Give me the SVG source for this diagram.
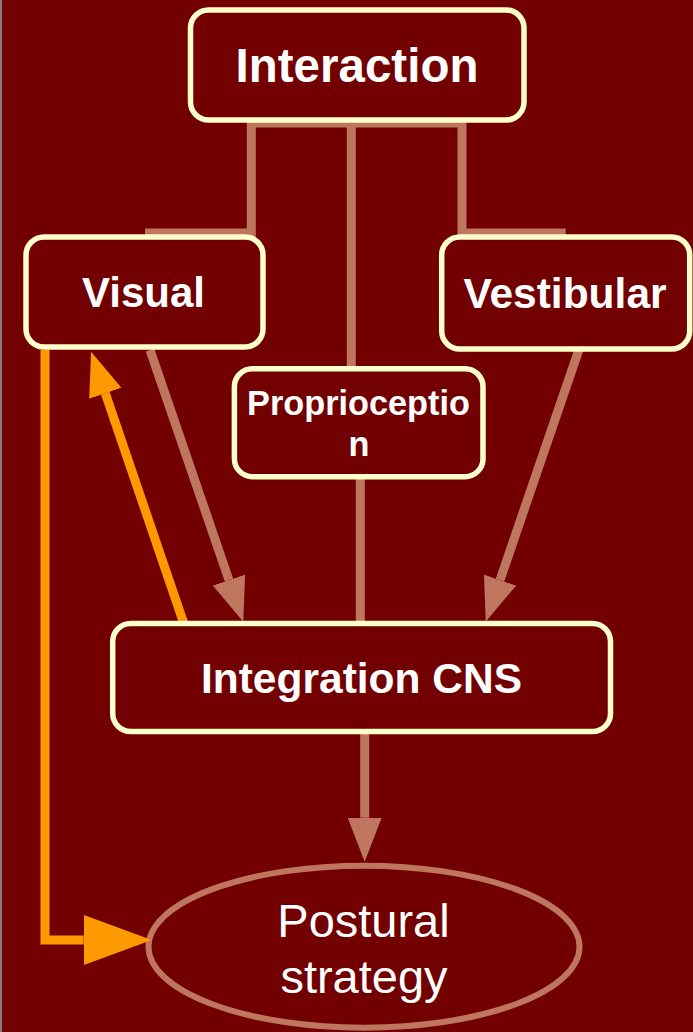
<svg xmlns="http://www.w3.org/2000/svg" width="693" height="1032" viewBox="0 0 693 1032">
  <defs>
    <style>
      .box { fill: #720000; stroke: #FFFFCC; stroke-width: 5.5; }
      .lbl { fill: #FFFFFF; font-family: "Liberation Sans", Arial, sans-serif; font-weight: bold; text-anchor: middle; }
      .plain { fill: #FFFFFF; font-family: "Liberation Sans", Arial, sans-serif; font-weight: normal; text-anchor: middle; }
      .link { fill: none; stroke: #BE765E; stroke-width: 9; }
      .feedback { fill: none; stroke: #FF9900; stroke-width: 9; }
    </style>
    <marker id="headBrown" viewBox="0 -17 44 34" refX="0" refY="0" markerWidth="44" markerHeight="34" markerUnits="userSpaceOnUse" orient="auto">
      <path d="M0,-17 L44,0 L0,17 Z" fill="#BE765E"/>
    </marker>
    <marker id="headOrange" viewBox="0 -17 44 34" refX="0" refY="0" markerWidth="44" markerHeight="34" markerUnits="userSpaceOnUse" orient="auto">
      <path d="M0,-17 L44,0 L0,17 Z" fill="#FF9900"/>
    </marker>
    <marker id="headOrangeBig" viewBox="0 -25 68 50" refX="0" refY="0" markerWidth="68" markerHeight="50" markerUnits="userSpaceOnUse" orient="auto">
      <path d="M0,-25 L68,0 L0,25 Z" fill="#FF9900"/>
    </marker>
  </defs>

  <!-- background -->
  <rect x="0" y="0" width="693" height="1032" fill="#720000"/>
  <rect x="0" y="0" width="2" height="1032" fill="#7f7f7f"/>

  <!-- outcome node sits under the arrows that reach it -->
  <g id="node-postural">
    <ellipse cx="364" cy="946.7" rx="215.5" ry="81" fill="#720000" stroke="#BE765E" stroke-width="6"/>
    <text class="plain" x="363.5" y="936.7" font-size="47">Postural</text>
    <text class="plain" x="364" y="993.3" font-size="47">strategy</text>
  </g>

  <g id="connectors">
    <!-- Interaction fans out to the three senses -->
    <path class="link" d="M145,233 H251.3 V123 H462 V233 H565.7"/>
    <path class="link" d="M351.3,123 V369"/>
    <!-- Proprioception to integration -->
    <path class="link" d="M360.3,478 V623"/>
    <!-- senses to integration -->
    <path class="link" d="M150,350 L229,580.1" marker-end="url(#headBrown)"/>
    <path class="link" d="M578.8,350 L500,580.1" marker-end="url(#headBrown)"/>
    <!-- integration to postural strategy -->
    <path class="link" d="M364.7,733 V817.7" marker-end="url(#headBrown)"/>
    <!-- feedback loops -->
    <path class="feedback" d="M184,624 L105.3,393.3" marker-end="url(#headOrange)"/>
    <path class="feedback" stroke-width="10" d="M45,350 V940 H83.7" marker-end="url(#headOrangeBig)"/>
  </g>

  <g id="node-interaction">
    <rect class="box" x="190.5" y="10" width="333.5" height="110" rx="18"/>
    <text class="lbl" x="357" y="82" font-size="47.5">Interaction</text>
  </g>

  <g id="node-visual">
    <rect class="box" x="26" y="237" width="237" height="110" rx="18"/>
    <text class="lbl" x="143.5" y="306.5" font-size="42">Visual</text>
  </g>

  <g id="node-vestibular">
    <rect class="box" x="441.7" y="237" width="248" height="112" rx="18"/>
    <text class="lbl" x="565" y="308" font-size="42.5">Vestibular</text>
  </g>

  <g id="node-proprioception">
    <rect class="box" x="234.4" y="368.7" width="248.6" height="108" rx="18"/>
    <text class="lbl" x="358.5" y="415" font-size="34.3">Proprioceptio</text>
    <text class="lbl" x="359" y="456" font-size="34.3">n</text>
  </g>

  <g id="node-integration">
    <rect class="box" x="112.7" y="623.5" width="497.8" height="108" rx="18"/>
    <text class="lbl" x="361.5" y="693" font-size="42.5">Integration CNS</text>
  </g>
</svg>
